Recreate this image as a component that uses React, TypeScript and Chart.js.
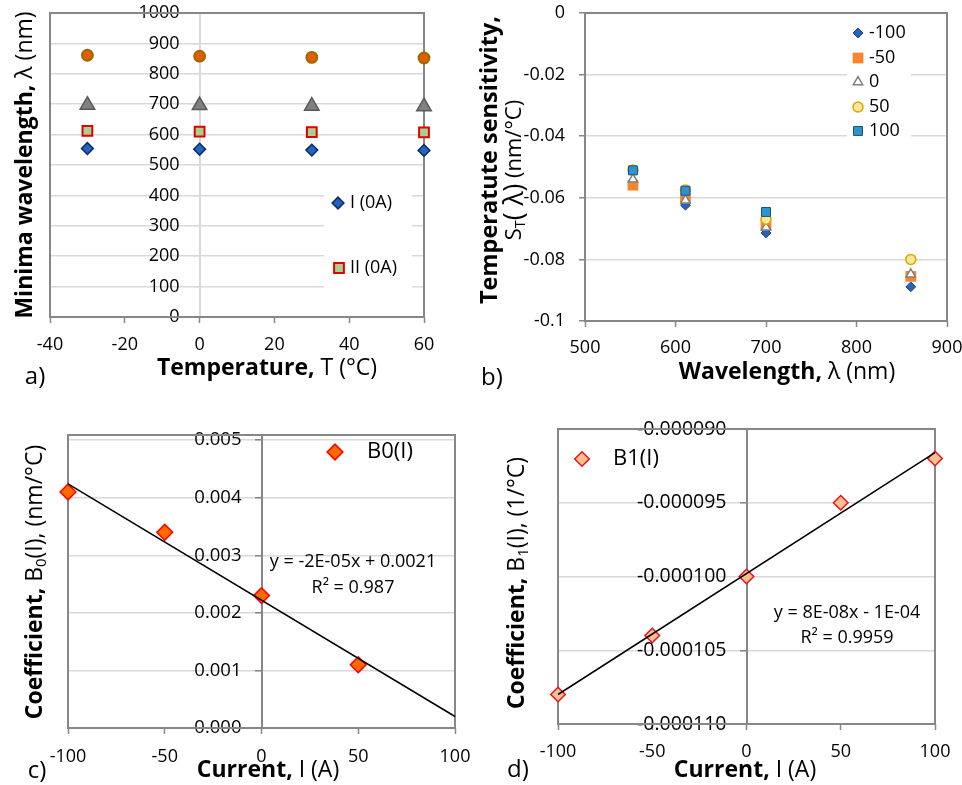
import React, { useEffect, useRef } from 'react';
import { Chart, registerables } from 'chart.js';
import { drawPoint } from 'chart.js/helpers';
Chart.register(...registerables);

const W = 962;
const H = 785;
const FONT = "'Open Sans', 'Liberation Sans', 'DejaVu Sans', sans-serif";
const GRID = '#D9D9D9';
const FRAME = '#878787';
const TICK_SIZE = 18;

// ---------- Panel a: minima wavelength vs temperature ----------
const tempA = [-30, 0, 30, 60];
const minI = [554, 552, 549, 548];
const minII = [612, 610, 608, 607];
const minIII = [697, 696, 694, 692];
const minIV = [861, 858, 854, 852];
const xTicksA = [-40, -20, 0, 20, 40, 60];
const yTicksA = [0, 100, 200, 300, 400, 500, 600, 700, 800, 900, 1000];

// ---------- Panel b: temperature sensitivity vs wavelength ----------
const lambdaB = [553, 611, 700, 860];
const sensM100 = [-0.0556, -0.0624, -0.0714, -0.0889];
const sensM50 = [-0.0559, -0.0602, -0.0689, -0.0855];
const sens0 = [-0.054, -0.0608, -0.0696, -0.0848];
const sens50 = [-0.051, -0.0575, -0.067, -0.08];
const sens100: (number | null)[] = [-0.0511, -0.0577, -0.0646, null];
const xTicksB = [500, 600, 700, 800, 900];
const yTicksB = [0, -0.02, -0.04, -0.06, -0.08, -0.1];

// ---------- Panel c: B0(I) ----------
const currentC = [-100, -50, 0, 50];
const b0 = [0.0041, 0.0034, 0.0023, 0.0011];
const fitCx = [-100, 100];
const fitCy = [0.00424, 0.0002];
const xTicksC = [-100, -50, 0, 50, 100];
const yTicksC = [0, 0.001, 0.002, 0.003, 0.004, 0.005];

// ---------- Panel d: B1(I) ----------
const currentD = [-100, -50, 0, 50, 100];
const b1 = [-0.000108, -0.000104, -0.0001, -0.000095, -0.000092];
const fitDx = [-100, 100];
const fitDy = [-0.000108, -0.0000916];
const xTicksD = [-100, -50, 0, 50, 100];
const yTicksD = [-0.00011, -0.000105, -0.0001, -0.000095, -0.00009];

type Seg = { t: string; b?: boolean; sub?: boolean; k?: number };
type Txt = { segs: Seg[]; x: number; y: number; size: number; rot?: boolean; align?: 'left' | 'center' };
type Mk = { pointStyle: string; radius: number; fill: string; stroke: string; bw: number };
type Leg = { mk: Mk; x: number; y: number; tx: number; text: string; size: number };
type Decor = { texts: Txt[]; legend: Leg[]; legendBox?: [number, number, number, number] };

const MK_A_I: Mk = { pointStyle: 'rectRot', radius: 5.9, fill: '#2264C0', stroke: '#0E2A66', bw: 1.5 };
const MK_A_II: Mk = { pointStyle: 'rect', radius: 6.9, fill: '#A9D18E', stroke: '#E00000', bw: 2 };
const MK_A_III: Mk = { pointStyle: 'triangle', radius: 8.4, fill: '#808080', stroke: '#5A5A5A', bw: 1.5 };
const MK_A_IV: Mk = { pointStyle: 'circle', radius: 5.4, fill: '#E65C00', stroke: '#9A6A00', bw: 2 };

const MK_B_M100: Mk = { pointStyle: 'rectRot', radius: 4.9, fill: '#2463BE', stroke: '#1C3F80', bw: 1 };
const MK_B_M50: Mk = { pointStyle: 'rect', radius: 7.6, fill: '#F7842F', stroke: '#F7842F', bw: 0 };
const MK_B_0: Mk = { pointStyle: 'triangle', radius: 5.4, fill: '#FFFFFF', stroke: '#7F7F7F', bw: 1.5 };
const MK_B_50: Mk = { pointStyle: 'circle', radius: 5, fill: '#FFE699', stroke: '#D9A800', bw: 1.5 };
const MK_B_100: Mk = { pointStyle: 'rect', radius: 6.3, fill: '#2B95D2', stroke: '#1F4E79', bw: 1 };

const MK_C: Mk = { pointStyle: 'rectRot', radius: 7.9, fill: '#FF6A00', stroke: '#FF0000', bw: 1.5 };
const MK_D: Mk = { pointStyle: 'rectRot', radius: 7.3, fill: '#FAC090', stroke: '#E8141B', bw: 1.5 };

function fontStr(size: number, bold?: boolean) {
  return `${bold ? 'bold ' : ''}${size}px ${FONT}`;
}

function segSize(s: Seg, size: number) {
  return size * (s.sub ? 0.65 : 1) * (s.k || 1);
}

function drawRich(ctx: CanvasRenderingContext2D, it: Txt) {
  ctx.save();
  ctx.translate(it.x, it.y);
  if (it.rot) ctx.rotate(-Math.PI / 2);
  ctx.textBaseline = 'middle';
  ctx.textAlign = 'left';
  ctx.fillStyle = '#000';
  const widths = it.segs.map((s) => {
    ctx.font = fontStr(segSize(s, it.size), s.b);
    return ctx.measureText(s.t).width;
  });
  const total = widths.reduce((a, b) => a + b, 0);
  let x = it.align === 'left' ? 0 : -total / 2;
  it.segs.forEach((s, i) => {
    ctx.font = fontStr(segSize(s, it.size), s.b);
    ctx.fillText(s.t, x, s.sub ? it.size * 0.28 : 0);
    x += widths[i];
  });
  ctx.restore();
}

function drawMarker(ctx: CanvasRenderingContext2D, mk: Mk, x: number, y: number) {
  ctx.save();
  ctx.fillStyle = mk.fill;
  ctx.strokeStyle = mk.stroke;
  ctx.lineWidth = mk.bw;
  drawPoint(ctx, { pointStyle: mk.pointStyle as any, radius: mk.radius, borderWidth: mk.bw, rotation: 0 } as any, x, y);
  ctx.restore();
}

function decorPlugin(decor: Decor, zeroAxisGap: number | null) {
  return {
    id: 'decor',
    beforeDraw(chart: any) {
      if (zeroAxisGap === null) return;
      const ys = chart.scales.y;
      const x0 = chart.scales.x.getPixelForValue(0);
      const items = ys.getLabelItems ? ys.getLabelItems(chart.chartArea) : [];
      items.forEach((it: any) => {
        const o = it.options || it;
        if (o.translation) o.translation[0] = x0 - zeroAxisGap;
        o.textAlign = 'right';
      });
    },
    beforeDatasetsDraw(chart: any) {
      const { ctx, chartArea: a } = chart;
      ctx.save();
      ctx.strokeStyle = FRAME;
      ctx.lineWidth = 2;
      ctx.strokeRect(a.left, a.top, a.right - a.left, a.bottom - a.top);
      if (decor.legendBox) {
        const [lx, ly, lw, lh] = decor.legendBox;
        ctx.fillStyle = '#FFFFFF';
        ctx.fillRect(lx, ly, lw, lh);
      }
      ctx.restore();
    },
    afterDraw(chart: any) {
      const ctx = chart.ctx as CanvasRenderingContext2D;
      decor.texts.forEach((t) => drawRich(ctx, t));
      decor.legend.forEach((l) => {
        drawMarker(ctx, l.mk, l.x, l.y);
        drawRich(ctx, { segs: [{ t: l.text }], x: l.tx, y: l.y, size: l.size, align: 'left' });
      });
    },
  };
}

function pts(xs: number[], ys: (number | null)[]) {
  return xs.map((x, i) => ({ x, y: ys[i] })).filter((p) => p.y !== null);
}

function scatterDs(label: string, xs: number[], ys: (number | null)[], mk: Mk, order: number) {
  return {
    type: 'scatter',
    label,
    data: pts(xs, ys),
    pointStyle: mk.pointStyle,
    pointRadius: mk.radius,
    pointBackgroundColor: mk.fill,
    pointBorderColor: mk.stroke,
    pointBorderWidth: mk.bw,
    showLine: false,
    clip: false,
    order,
  };
}

function trendDs(xs: number[], ys: number[]) {
  return {
    type: 'scatter',
    label: 'trend',
    data: pts(xs, ys),
    showLine: true,
    pointRadius: 0,
    borderColor: '#000000',
    borderWidth: 1.5,
    clip: false,
    order: -1,
  };
}

type Area = { left: number; top: number; right: number; bottom: number };
type Spec = {
  datasets: any[];
  area: Area;
  x: { min: number; max: number; ticks: number[]; pad: number };
  y: {
    min: number;
    max: number;
    ticks: number[];
    fmt: (v: number) => string;
    zeroAxis: boolean;
    borderColor: string;
    tickColor: string;
    size?: number;
  };
  decor: Decor;
};

const X_AXIS_H = 40;

function build(canvas: HTMLCanvasElement, s: Spec) {
  const yScale: any = {
    type: 'linear',
    min: s.y.min,
    max: s.y.max,
    afterBuildTicks: (sc: any) => {
      sc.ticks = s.y.ticks.map((v) => ({ value: v }));
    },
    afterFit: (sc: any) => {
      if (!s.y.zeroAxis) sc.width = s.area.left;
      sc.paddingTop = 0;
      sc.paddingBottom = 0;
      sc.paddingLeft = 0;
      sc.paddingRight = 0;
    },
    grid: {
      color: GRID,
      lineWidth: 1.5,
      drawTicks: true,
      tickLength: 6,
      tickColor: s.y.tickColor,
      tickWidth: 1.5,
    },
    border: { display: s.y.zeroAxis, color: s.y.borderColor, width: 2 },
    ticks: {
      font: { family: FONT, size: s.y.size || TICK_SIZE },
      color: '#000',
      padding: 14,
      autoSkip: false,
      callback: (v: any) => s.y.fmt(Number(v)),
    },
  };
  if (s.y.zeroAxis) yScale.position = { x: 0 };
  else yScale.position = 'left';

  const xScale: any = {
    type: 'linear',
    position: 'bottom',
    min: s.x.min,
    max: s.x.max,
    afterBuildTicks: (sc: any) => {
      sc.ticks = s.x.ticks.map((v) => ({ value: v }));
    },
    afterFit: (sc: any) => {
      sc.height = X_AXIS_H;
      sc.paddingLeft = 0;
      sc.paddingRight = 0;
      sc.paddingTop = 0;
      sc.paddingBottom = 0;
    },
    grid: {
      drawOnChartArea: false,
      drawTicks: true,
      tickLength: 6,
      tickColor: FRAME,
      tickWidth: 1.5,
    },
    border: { display: false },
    ticks: {
      font: { family: FONT, size: TICK_SIZE },
      color: '#000',
      padding: s.x.pad,
      autoSkip: false,
      maxRotation: 0,
      minRotation: 0,
      callback: (v: any) => String(v),
    },
  };

  return new Chart(canvas, {
    type: 'scatter',
    data: { datasets: s.datasets },
    options: {
      animation: false,
      responsive: false,
      devicePixelRatio: 1,
      events: [],
      layout: {
        autoPadding: false,
        padding: {
          left: s.y.zeroAxis ? s.area.left : 0,
          top: s.area.top,
          right: W - s.area.right,
          bottom: H - s.area.bottom - X_AXIS_H,
        },
      },
      plugins: { legend: { display: false }, tooltip: { enabled: false } },
      scales: { x: xScale, y: yScale },
    } as any,
    plugins: [decorPlugin(s.decor, s.y.zeroAxis ? 20 : null) as any],
  } as any);
}

const TITLE = 23;
const LEG_BIG = 22;
const EQ = 18;

const specA: Spec = {
  datasets: [
    scatterDs('I (0A)', tempA, minI, MK_A_I, 3),
    scatterDs('II (0A)', tempA, minII, MK_A_II, 2),
    scatterDs('III (0A)', tempA, minIII, MK_A_III, 1),
    scatterDs('IV (0A)', tempA, minIV, MK_A_IV, 0),
  ],
  area: { left: 50, top: 13, right: 424, bottom: 317 },
  x: { min: -40, max: 60, ticks: xTicksA, pad: 11 },
  y: { min: 0, max: 1000, ticks: yTicksA, fmt: (v) => String(v), zeroAxis: true, borderColor: GRID, tickColor: GRID },
  decor: {
    texts: [
      { segs: [{ t: 'Minima wavelength, ', b: true }, { t: 'λ (nm)' }], x: 25, y: 165, size: TITLE, rot: true },
      { segs: [{ t: 'Temperature, ', b: true }, { t: 'T (°C)' }], x: 267, y: 368, size: TITLE },
      { segs: [{ t: 'a)' }], x: 35, y: 377, size: 24 },
    ],
    legend: [
      { mk: MK_A_I, x: 338, y: 203, tx: 350, text: 'I (0A)', size: TICK_SIZE },
      { mk: MK_A_II, x: 339, y: 268, tx: 350, text: 'II (0A)', size: TICK_SIZE },
    ],
    legendBox: [324, 188, 88, 104],
  },
};

const specB: Spec = {
  datasets: [
    scatterDs('-100', lambdaB, sensM100, MK_B_M100, 4),
    scatterDs('-50', lambdaB, sensM50, MK_B_M50, 3),
    scatterDs('0', lambdaB, sens0, MK_B_0, 2),
    scatterDs('50', lambdaB, sens50, MK_B_50, 1),
    scatterDs('100', lambdaB, sens100, MK_B_100, 0),
  ],
  area: { left: 585, top: 13, right: 947, bottom: 321 },
  x: { min: 500, max: 900, ticks: xTicksB, pad: 10 },
  y: { min: -0.1, max: 0, ticks: yTicksB, fmt: (v) => String(Math.round(v * 100) / 100), zeroAxis: false, borderColor: FRAME, tickColor: FRAME },
  decor: {
    texts: [
      { segs: [{ t: 'Temperatute sensitivity,', b: true }], x: 490, y: 160, size: 23.5, rot: true },
      { segs: [{ t: 'S' }, { t: 'T', sub: true }, { t: '( λ)', k: 1.2 }, { t: ' (nm/°C)' }], x: 515, y: 170, size: 22, rot: true },
      { segs: [{ t: 'Wavelength, ', b: true }, { t: 'λ (nm)' }], x: 787, y: 372, size: TITLE },
      { segs: [{ t: 'b)' }], x: 492, y: 378, size: 24 },
    ],
    legend: [
      { mk: MK_B_M100, x: 858, y: 33, tx: 869, text: '-100', size: TICK_SIZE },
      { mk: MK_B_M50, x: 858, y: 58, tx: 869, text: '-50', size: TICK_SIZE },
      { mk: MK_B_0, x: 858, y: 82, tx: 869, text: '0', size: TICK_SIZE },
      { mk: MK_B_50, x: 858, y: 107, tx: 869, text: '50', size: TICK_SIZE },
      { mk: MK_B_100, x: 858, y: 131, tx: 869, text: '100', size: TICK_SIZE },
    ],
    legendBox: [847, 18, 64, 126],
  },
};

const specC: Spec = {
  datasets: [scatterDs('B0(I)', currentC, b0, MK_C, 0), trendDs(fitCx, fitCy)],
  area: { left: 68, top: 435, right: 455, bottom: 728 },
  x: { min: -100, max: 100, ticks: xTicksC, pad: 12 },
  y: { min: 0, max: 0.00509, ticks: yTicksC, fmt: (v) => v.toFixed(3), zeroAxis: true, borderColor: FRAME, tickColor: FRAME, size: 18.5 },
  decor: {
    texts: [
      { segs: [{ t: 'Coefficient, ', b: true }, { t: 'B' }, { t: '0', sub: true }, { t: '(I), (nm/°C)' }], x: 35, y: 582, size: TITLE, rot: true },
      { segs: [{ t: 'Current, ', b: true }, { t: 'I (A)' }], x: 268, y: 770, size: TITLE },
      { segs: [{ t: 'c)' }], x: 37, y: 771, size: 24 },
      { segs: [{ t: 'y = -2E-05x + 0.0021' }], x: 353, y: 562, size: EQ },
      { segs: [{ t: 'R² = 0.987' }], x: 353, y: 588, size: EQ },
    ],
    legend: [{ mk: MK_C, x: 335, y: 452, tx: 367, text: 'B0(I)', size: LEG_BIG }],
  },
};

const specD: Spec = {
  datasets: [scatterDs('B1(I)', currentD, b1, MK_D, 0), trendDs(fitDx, fitDy)],
  area: { left: 558, top: 429, right: 935, bottom: 724 },
  x: { min: -100, max: 100, ticks: xTicksD, pad: 11 },
  y: { min: -0.00011, max: -0.00009, ticks: yTicksD, fmt: (v) => v.toFixed(6), zeroAxis: true, borderColor: FRAME, tickColor: FRAME, size: 19.5 },
  decor: {
    texts: [
      { segs: [{ t: 'Coefficient, ', b: true }, { t: 'B' }, { t: '1', sub: true }, { t: '(I), (1/°C)' }], x: 517, y: 583, size: TITLE, rot: true },
      { segs: [{ t: 'Current, ', b: true }, { t: 'I (A)' }], x: 745, y: 770, size: TITLE },
      { segs: [{ t: 'd)' }], x: 518, y: 770, size: 24 },
      { segs: [{ t: 'y = 8E-08x - 1E-04' }], x: 847, y: 613, size: EQ },
      { segs: [{ t: 'R² = 0.9959' }], x: 847, y: 638, size: EQ },
    ],
    legend: [{ mk: MK_D, x: 582, y: 459, tx: 613, text: 'B1(I)', size: LEG_BIG }],
  },
};

function ChartLayer({ spec }: { spec: Spec }) {
  const ref = useRef<HTMLCanvasElement>(null);
  useEffect(() => {
    const ch = build(ref.current as HTMLCanvasElement, spec);
    return () => ch.destroy();
  }, [spec]);
  return (
    <canvas
      ref={ref}
      width={W}
      height={H}
      style={{ position: 'absolute', left: 0, top: 0, width: W, height: H }}
    />
  );
}

export default function App() {
  return (
    <div style={{ position: 'absolute', left: 0, top: 0, width: W, height: H, background: '#FFFFFF', overflow: 'hidden' }}>
      <ChartLayer spec={specA} />
      <ChartLayer spec={specB} />
      <ChartLayer spec={specC} />
      <ChartLayer spec={specD} />
    </div>
  );
}
